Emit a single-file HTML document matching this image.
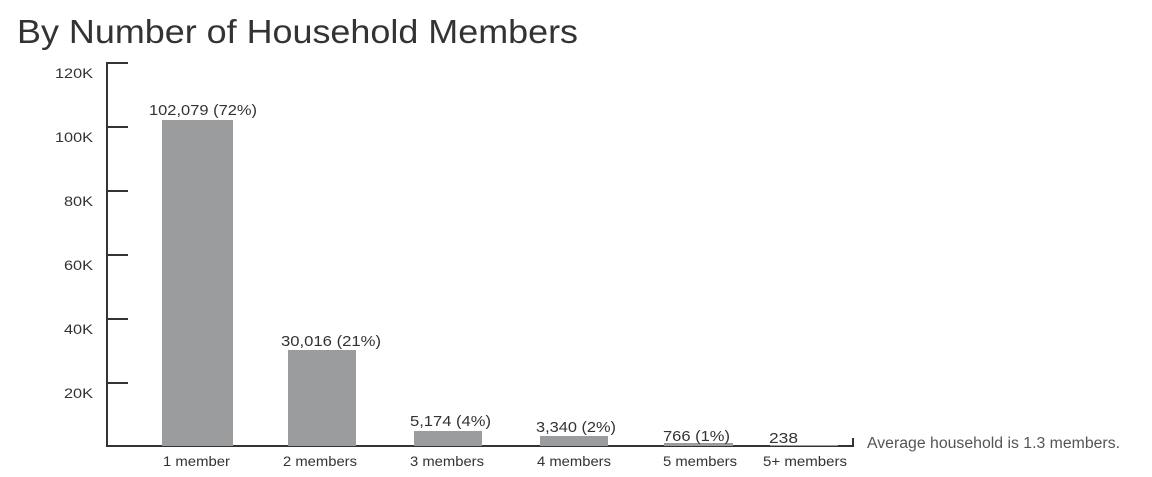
<!DOCTYPE html>
<html><head><meta charset="utf-8"><style>
html,body{margin:0;padding:0;background:#fff;}
svg{display:block;}
text{font-family:"Liberation Sans",sans-serif;}
</style></head><body>
<svg width="1152" height="477" viewBox="0 0 1152 477">
<text x="17" y="43" font-size="33" fill="#333" textLength="561" lengthAdjust="spacingAndGlyphs">By Number of Household Members</text>
<g stroke="#333" stroke-width="2" fill="none">
<line x1="107" y1="62" x2="107" y2="447"/>
<line x1="106" y1="63" x2="128" y2="63"/>
<line x1="106" y1="127" x2="128" y2="127"/>
<line x1="106" y1="191" x2="128" y2="191"/>
<line x1="106" y1="255" x2="128" y2="255"/>
<line x1="106" y1="319" x2="128" y2="319"/>
<line x1="106" y1="383" x2="128" y2="383"/>
<line x1="106" y1="446" x2="854" y2="446"/>
<line x1="853" y1="438" x2="853" y2="447"/>
</g>
<g font-size="14" fill="#333" text-anchor="end">
<text x="93" y="78" textLength="38" lengthAdjust="spacingAndGlyphs">120K</text>
<text x="93" y="142" textLength="38" lengthAdjust="spacingAndGlyphs">100K</text>
<text x="93" y="206" textLength="29" lengthAdjust="spacingAndGlyphs">80K</text>
<text x="93" y="270" textLength="29" lengthAdjust="spacingAndGlyphs">60K</text>
<text x="93" y="334" textLength="29" lengthAdjust="spacingAndGlyphs">40K</text>
<text x="93" y="398" textLength="29" lengthAdjust="spacingAndGlyphs">20K</text>
</g>
<g fill="#9a9c9e">
<rect x="162" y="120" width="71" height="326"/>
<rect x="288" y="350" width="68" height="96"/>
<rect x="414" y="431" width="68" height="15"/>
<rect x="540" y="436" width="68" height="10"/>
<rect x="664" y="443" width="69" height="3"/>
<rect x="770" y="445" width="68" height="1"/>
</g>
<g font-size="15" fill="#333">
<text x="149" y="115" textLength="108" lengthAdjust="spacingAndGlyphs">102,079 (72%)</text>
<text x="281" y="346" textLength="100" lengthAdjust="spacingAndGlyphs">30,016 (21%)</text>
<text x="410" y="426" textLength="81" lengthAdjust="spacingAndGlyphs">5,174 (4%)</text>
<text x="536" y="432" textLength="80" lengthAdjust="spacingAndGlyphs">3,340 (2%)</text>
<text x="663" y="441" textLength="67" lengthAdjust="spacingAndGlyphs">766 (1%)</text>
<text x="769" y="443" textLength="29" lengthAdjust="spacingAndGlyphs">238</text>
</g>
<g font-size="14" fill="#333">
<text x="163" y="466" textLength="67" lengthAdjust="spacingAndGlyphs">1 member</text>
<text x="283" y="466" textLength="74" lengthAdjust="spacingAndGlyphs">2 members</text>
<text x="410" y="466" textLength="74" lengthAdjust="spacingAndGlyphs">3 members</text>
<text x="537" y="466" textLength="74" lengthAdjust="spacingAndGlyphs">4 members</text>
<text x="663" y="466" textLength="74" lengthAdjust="spacingAndGlyphs">5 members</text>
<text x="763" y="466" textLength="84" lengthAdjust="spacingAndGlyphs">5+ members</text>
</g>
<text x="867" y="448" font-size="15.5" fill="#555" textLength="253" lengthAdjust="spacingAndGlyphs">Average household is 1.3 members.</text>
</svg>
</body></html>
